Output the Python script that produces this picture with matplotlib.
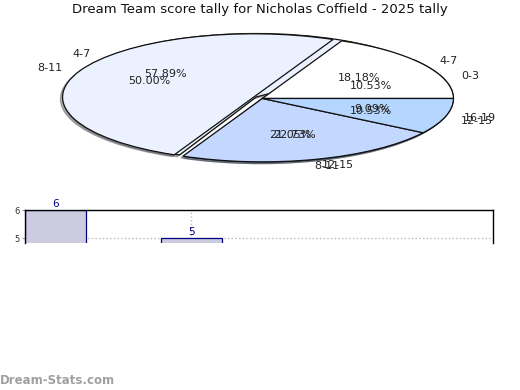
import matplotlib
matplotlib.use("Agg")
import matplotlib.pyplot as plt

# first tally (out of 19)
labels_a = ['0-3', '4-7', '8-11', '12-15']
counts_a = [2, 11, 4, 2]
# second tally (out of 22)
labels_b = ['4-7', '8-11', '12-15', '16-19']
counts_b = [4, 11, 5, 2]

slice_colors = ['#FFFFFF', '#EBF1FF', '#C4D7FF', '#B4D6FF']

bar_cats = ['A', 'B']
bar_vals = [6, 5]

fig = plt.figure(figsize=(5.2, 3.9), dpi=100)
fig.text(0.5, 0.975, 'Dream Team score tally for Nicholas Coffield - 2025 tally',
         ha='center', va='center', fontsize=9.5, color='#111111')

# pie axes: squashed ellipse, no equal aspect
ax = fig.add_axes([0.137, 0.585, 0.735, 0.325])
wedge_kw = dict(edgecolor='#111111', linewidth=0.9)
for lab, cnt, expl in [(labels_a, counts_a, [0, 0.04, 0, 0]),
                       (labels_b, counts_b, [0, 0.05, 0, 0])]:
    w, t, p = ax.pie(cnt, labels=lab, colors=slice_colors, autopct='%.2f%%',
                     startangle=0, counterclock=True, explode=expl,
                     shadow=dict(ox=-0.008, oy=-0.02, shade=0.6),
                     labeldistance=1.1, pctdistance=0.6,
                     wedgeprops=wedge_kw, textprops=dict(fontsize=8, color='#222222'))
    for txt in t + p:
        txt.set_clip_on(False)
ax.set_aspect('auto')
ax.set_xlim(-1, 1)
ax.set_ylim(-1, 1)
ax.axis('off')

# bar axes, cropped view
bx = fig.add_axes([0.048, 0.378, 0.9, 0.083])
x = list(range(len(bar_cats)))
bars = bx.bar(x, bar_vals, width=0.45, color='#CCCCE0', edgecolor='#000080',
              linewidth=0.9, zorder=2)
for xi, v in zip(x, bar_vals):
    bx.text(xi, v + 0.05, str(v), ha='center', va='bottom', fontsize=7.5,
            color='#000080', clip_on=False)
bx.set_xlim(-0.225, 3.22)
bx.set_ylim(4.85, 6)
bx.set_yticks([5, 6])
bx.set_xticks(x)
bx.set_xticklabels([])
bx.tick_params(axis='y', labelsize=6, length=2, color='#999999', labelcolor='#333333', pad=2)
bx.tick_params(axis='x', length=0)
bx.grid(True, linestyle=':', color='#BBBBBB', linewidth=1.0, zorder=0)
bx.spines['bottom'].set_visible(False)
for s in ['top', 'left', 'right']:
    bx.spines[s].set_linewidth(1.0)

fig.text(0.0, 0.025, 'Dream-Stats.com', ha='left', va='center', fontsize=8.5,
         color='#A0A0A0', fontweight='bold')

fig.savefig('out.png', dpi=100)
